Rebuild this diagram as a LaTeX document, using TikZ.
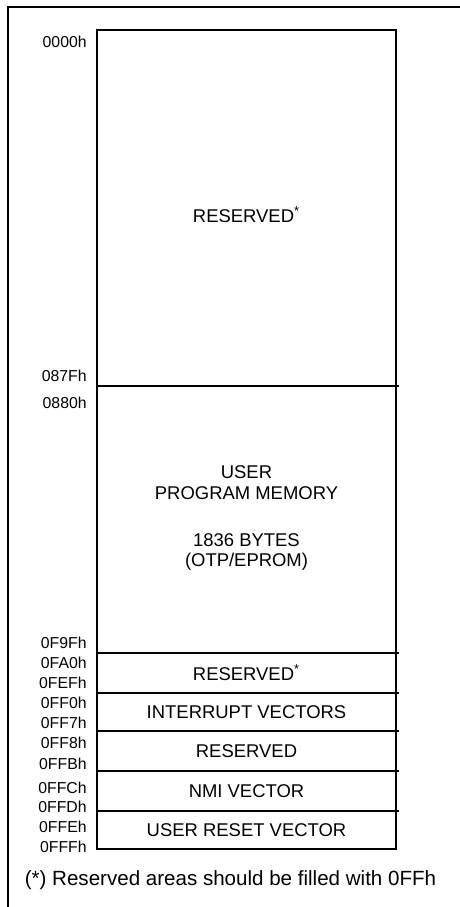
\documentclass[tikz,border=0pt]{standalone}
\usepackage{fontspec}
\setmainfont{Liberation Sans}
\usepackage{tikz}
\usetikzlibrary{positioning}
\tikzset{
    addr/.style={anchor=east, inner sep=0pt, font=\fontsize{9}{10.8}\selectfont},
    area/.style={inner sep=0pt, align=center, font=\fontsize{10.5}{11.7}\selectfont},
    note/.style={inner sep=0pt, font=\fontsize{11.7}{14}\selectfont},
    mapline/.style={line width=0.9pt},
    frameline/.style={line width=0.6pt}
}

\begin{document}
\begin{tikzpicture}[x=0.02cm, y=-0.02cm]
\useasboundingbox (0,0) rectangle (460,907);
\draw[frameline] (8,907) -- (8,7) -- (460,7);
\coordinate (TL) at (97,30);
\coordinate (BR) at (396,849);
\draw[mapline] (TL) rectangle (BR);
\foreach \y in {386,653,693,731,771,811} {
  \draw[mapline] (97,\y) -- (399,\y);
}
\node[area] (resA) at (246.5,215) {RESERVED\textsuperscript{*}};
\node[area] (user) at (246.5,482.5) {USER\\PROGRAM MEMORY};
\node[area] (bytes) at (246.5,552) {1836 BYTES\\(OTP/EPROM)};
\node[area] (resB) at (246.5,673) {RESERVED\textsuperscript{*}};
\node[area] (intv) at (246.5,712) {INTERRUPT VECTORS};
\node[area] (resC) at (246.5,751) {RESERVED};
\node[area] (nmi) at (246.5,791) {NMI VECTOR};
\node[area] (rstv) at (246.5,830) {USER RESET VECTOR};
\node[addr] (a0000) at (87,42) {0000h};
\node[addr] (a087F) at (87,376) {087Fh};
\node[addr] (a0880) at (87,403) {0880h};
\node[addr] (a0F9F) at (87,643) {0F9Fh};
\node[addr] (a0FA0) at (87,663) {0FA0h};
\node[addr] (a0FEF) at (87,683) {0FEFh};
\node[addr] (a0FF0) at (87,703) {0FF0h};
\node[addr] (a0FF7) at (87,723) {0FF7h};
\node[addr] (a0FF8) at (87,743) {0FF8h};
\node[addr] (a0FFB) at (87,764) {0FFBh};
\node[addr] (a0FFC) at (87,788) {0FFCh};
\node[addr] (a0FFD) at (87,807) {0FFDh};
\node[addr] (a0FFE) at (87,827) {0FFEh};
\node[addr] (a0FFF) at (87,847) {0FFFh};
\node[note] (fnote) at (230.5,880) {(*) Reserved areas should be filled with 0FFh};
\end{tikzpicture}
\end{document}
